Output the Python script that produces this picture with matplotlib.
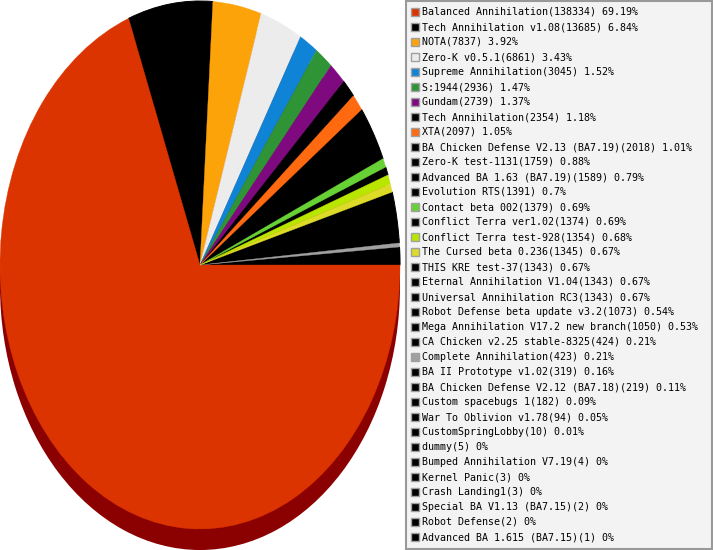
import matplotlib
matplotlib.use("Agg")
import matplotlib.pyplot as plt
from matplotlib.patches import Rectangle

labels = ["Balanced Annihilation", "Tech Annihilation v1.08", "NOTA", "Zero-K v0.5.1",
          "Supreme Annihilation", "S:1944", "Gundam", "Tech Annihilation", "XTA",
          "BA Chicken Defense V2.13 (BA7.19)", "Zero-K test-1131", "Advanced BA 1.63 (BA7.19)",
          "Evolution RTS", "Contact beta 002", "Conflict Terra ver1.02", "Conflict Terra test-928",
          "The Cursed beta 0.236", "THIS KRE test-37", "Eternal Annihilation V1.04",
          "Universal Annihilation RC3", "Robot Defense beta update v3.2",
          "Mega Annihilation V17.2 new branch", "CA Chicken v2.25 stable-8325",
          "Complete Annihilation", "BA II Prototype v1.02", "BA Chicken Defense V2.12 (BA7.18)",
          "Custom spacebugs 1", "War To Oblivion v1.78", "CustomSpringLobby", "dummy",
          "Bumped Annihilation V7.19", "Kernel Panic", "Crash Landing1",
          "Special BA V1.13 (BA7.15)", "Robot Defense", "Advanced BA 1.615 (BA7.15)"]
counts = [138334, 13685, 7837, 6861, 3045, 2936, 2739, 2354, 2097, 2018, 1759, 1589, 1391,
          1379, 1374, 1354, 1345, 1343, 1343, 1343, 1073, 1050, 424, 423, 319, 219, 182, 94,
          10, 5, 4, 3, 3, 2, 2, 1]
percents = ["69.19", "6.84", "3.92", "3.43", "1.52", "1.47", "1.37", "1.18", "1.05", "1.01",
            "0.88", "0.79", "0.7", "0.69", "0.69", "0.68", "0.67", "0.67", "0.67", "0.67",
            "0.54", "0.53", "0.21", "0.21", "0.16", "0.11", "0.09", "0.05", "0.01", "0", "0",
            "0", "0", "0", "0", "0"]
# slice sizes as seen on the drawn pie (its small slices differ from the printed figures)
drawn_shares = [69.19, 6.84, 3.92, 3.43, 1.52, 1.47, 1.37, 1.18, 1.05, 1.01, 0.88, 0.79, 0.75,
                0.55, 0.51, 0.58, 0.50, 0.62, 0.62, 0.62, 0.54, 0.53, 0.20, 0.24,
                0.16, 0.11, 0.09, 0.09, 0.08, 0.08, 0.08, 0.08, 0.08, 0.08, 0.08, 0.08]
special_colors = {0: "#dc3400", 2: "#fca30a", 3: "#ececec", 4: "#0f83d6", 5: "#2f9436",
                  6: "#7f0a80", 8: "#ff6a10", 13: "#66d235", 15: "#b8e600", 16: "#dcdc28",
                  23: "#a0a0a0"}
colors = [special_colors.get(i, "#000000") for i in range(len(counts))]

W, H = 713, 550
fig = plt.figure(figsize=(W / 100, H / 100), dpi=100, facecolor="white")
ax = fig.add_axes([0, 0, 1, 1])
ax.set_xlim(0, W)
ax.set_ylim(H, 0)
ax.axis("off")

cx, cy, rx, ry = 200, 265, 200, 264
shadow = fig.add_axes([(cx - rx) / W, 1 - (cy + 21 + ry) / H, 2 * rx / W, 2 * ry / H])
shadow.pie([1], colors=["#8b0000"], radius=1)
shadow.set_aspect("auto"); shadow.set_xlim(-1, 1); shadow.set_ylim(-1, 1)
pie = fig.add_axes([(cx - rx) / W, 1 - (cy + ry) / H, 2 * rx / W, 2 * ry / H])
wedges, _ = pie.pie(drawn_shares, colors=colors, startangle=0, counterclock=False, radius=1)
for w, c in zip(wedges, colors):
    w.set_edgecolor(c)
    w.set_linewidth(0.7 if c == "#000000" else 0.25)
# coloured thin slices stay on top of their black neighbours
for w, c in zip(wedges, colors):
    w.set_zorder(1 if c == "#000000" else 2)
pie.set_aspect("auto"); pie.set_xlim(-1, 1); pie.set_ylim(-1, 1)

# legend
ax.set_zorder(5)
ax.add_patch(Rectangle((405.5, 0.5), 306.5, 548.5, facecolor="#f3f3f3", edgecolor="#999999", lw=1.5))
for i, (name, n, p, c) in enumerate(zip(labels, counts, percents, colors)):
    y = 12 + i * 15
    ax.add_patch(Rectangle((410.5, y - 4.5), 8.5, 8.5, facecolor=c, edgecolor="#a0a0a0", lw=1))
    ax.text(422.5, y, f"{name}({n}) {p}%", family="DejaVu Sans Mono", fontsize=7.2,
            va="center", ha="left", color="black")

fig.savefig("out.png", dpi=100)
